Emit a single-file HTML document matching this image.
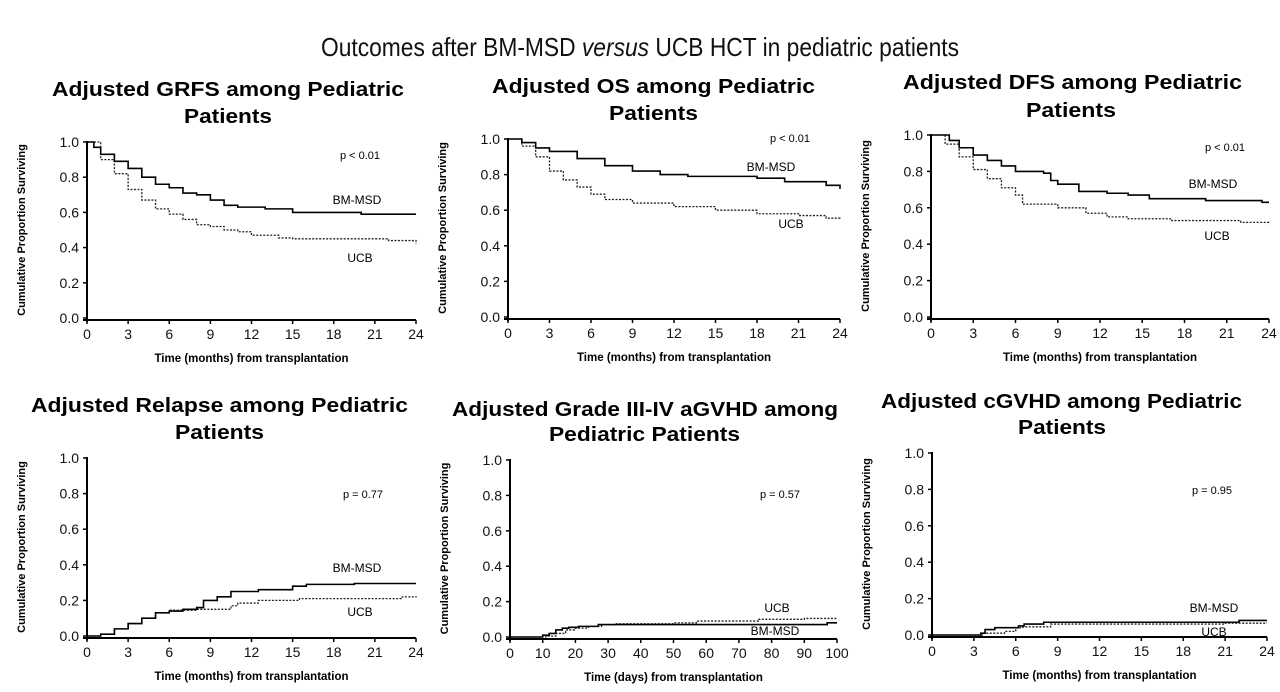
<!DOCTYPE html>
<html><head><meta charset="utf-8">
<style>
html,body{margin:0;padding:0;background:#fff;}
svg{display:block;font-family:"Liberation Sans",Arial,sans-serif;}
</style></head>
<body>
<svg id="fig" width="1280" height="692" viewBox="0 0 1280 692">
<text x="640" y="56" text-anchor="middle" font-size="26" textLength="638" lengthAdjust="spacingAndGlyphs" fill="#111">Outcomes after BM-MSD <tspan font-style="italic">versus</tspan> UCB HCT in pediatric patients</text>
</svg>
<script>
// ---- data ----
const grfsBmT=[0,0.5,1,2,3,4,5,6,7,8,9,10,11,13,15,20,24];
const grfsBmV=[1,0.97,0.93,0.89,0.85,0.80,0.76,0.74,0.71,0.70,0.67,0.64,0.63,0.62,0.60,0.59,0.59];
const grfsUcbT=[0,1,2,3,4,5,6,7,8,9,10,11,12,14,15,22,24];
const grfsUcbV=[1,0.90,0.82,0.73,0.67,0.62,0.59,0.56,0.53,0.52,0.50,0.49,0.47,0.455,0.45,0.44,0.42];
const osBmT=[0,1,2,3,5,7,9,11,13,18,20,23,24];
const osBmV=[1,0.98,0.95,0.93,0.89,0.85,0.82,0.80,0.79,0.78,0.76,0.74,0.72];
const osUcbT=[0,1,2,3,4,5,6,7,9,12,15,18,21,23,24];
const osUcbV=[1,0.96,0.90,0.82,0.77,0.73,0.69,0.66,0.64,0.62,0.60,0.58,0.57,0.555,0.55];
const dfsBmT=[0,1.3,2,3,4,5,6,8,8.5,9,10.5,12.5,14,15.5,19.5,23.5,24];
const dfsBmV=[1,0.97,0.93,0.89,0.86,0.83,0.80,0.79,0.75,0.73,0.69,0.68,0.67,0.65,0.64,0.63,0.63];
const dfsUcbT=[0,1,2,3,4,5,6,6.5,9,11,12.5,14,17,22,24];
const dfsUcbV=[1,0.95,0.88,0.81,0.76,0.71,0.67,0.62,0.60,0.57,0.55,0.54,0.53,0.52,0.51];
const relBmT=[0,1,2,3,4,5,6,7,8,8.5,9.5,10.5,12.5,15,16,19.5,24];
const relBmV=[0,0.01,0.04,0.07,0.10,0.13,0.14,0.15,0.16,0.20,0.22,0.25,0.26,0.28,0.29,0.295,0.295];
const relUcbT=[0,1,2,3,4,5,6,8,10.5,11,12.5,15.5,19,23,24];
const relUcbV=[0,0.01,0.04,0.07,0.10,0.13,0.145,0.15,0.17,0.185,0.20,0.21,0.21,0.22,0.225];
const agvBmT=[0,10,12,14,16,18,21,27,97,100];
const agvBmV=[0,0.01,0.02,0.04,0.05,0.055,0.06,0.07,0.08,0.08];
const agvUcbT=[0,11,14,17,20,24,28,32,50,57,76,90,100];
const agvUcbV=[0,0.005,0.02,0.04,0.05,0.06,0.07,0.075,0.08,0.09,0.10,0.105,0.105];
const cgvBmT=[0,3.5,3.8,4.5,6.2,6.6,8,22,24];
const cgvBmV=[0,0.01,0.03,0.04,0.05,0.06,0.07,0.08,0.08];
const cgvUcbT=[0,3.7,5.2,6,6.5,8.5,21,24];
const cgvUcbV=[0,0.01,0.02,0.04,0.045,0.06,0.065,0.065];
const yTicks=["0.0","0.2","0.4","0.6","0.8","1.0"];
const monthTicks=[0,3,6,9,12,15,18,21,24];
const dayTicks=[0,10,20,30,40,50,60,70,80,90,100];

const NS="http://www.w3.org/2000/svg";
const svg=document.getElementById('fig');
function mk(tag,attrs,parent){const e=document.createElementNS(NS,tag);for(const k in attrs)e.setAttribute(k,attrs[k]);(parent||svg).appendChild(e);return e;}

const panels=[
 {key:'grfs',t1:'Adjusted GRFS among Pediatric',t2:'Patients',l1:[52,404,96],l2:[184,272,123],x0:87,x1:416,y1:142,y0:318,xmax:24,ticks:monthTicks,xlab:'Time (months) from transplantation',
  bmT:grfsBmT,bmV:grfsBmV,ucbT:grfsUcbT,ucbV:grfsUcbV,p:['p < 0.01',360,159],bm:[357,204],ucb:[360,262]},
 {key:'os',t1:'Adjusted OS among Pediatric',t2:'Patients',l1:[492,815,93],l2:[609,698,120],x0:508,x1:840,y1:139,y0:317,xmax:24,ticks:monthTicks,xlab:'Time (months) from transplantation',
  bmT:osBmT,bmV:osBmV,ucbT:osUcbT,ucbV:osUcbV,p:['p < 0.01',790,142],bm:[771,171],ucb:[791,228]},
 {key:'dfs',t1:'Adjusted DFS among Pediatric',t2:'Patients',l1:[903,1242,89],l2:[1026,1116,117],x0:931,x1:1269,y1:135,y0:317,xmax:24,ticks:monthTicks,xlab:'Time (months) from transplantation',
  bmT:dfsBmT,bmV:dfsBmV,ucbT:dfsUcbT,ucbV:dfsUcbV,p:['p < 0.01',1225,151],bm:[1213,188],ucb:[1217,240]},
 {key:'relapse',t1:'Adjusted Relapse among Pediatric',t2:'Patients',l1:[31,408,412],l2:[175,264,439],x0:87,x1:416,y1:458,y0:636,xmax:24,ticks:monthTicks,xlab:'Time (months) from transplantation',
  bmT:relBmT,bmV:relBmV,ucbT:relUcbT,ucbV:relUcbV,p:['p = 0.77',363,498],bm:[357,572],ucb:[360,616]},
 {key:'agvhd',t1:'Adjusted Grade III-IV aGVHD among',t2:'Pediatric Patients',l1:[452,838,416],l2:[549,740,441],x0:510,x1:837,y1:460,y0:637,xmax:100,ticks:dayTicks,xlab:'Time (days) from transplantation',
  bmT:agvBmT,bmV:agvBmV,ucbT:agvUcbT,ucbV:agvUcbV,p:['p = 0.57',780,498],bm:[775,635],ucb:[777,612]},
 {key:'cgvhd',t1:'Adjusted cGVHD among Pediatric',t2:'Patients',l1:[881,1242,408],l2:[1018,1106,434],x0:932,x1:1267,y1:453,y0:635,xmax:24,ticks:monthTicks,xlab:'Time (months) from transplantation',
  bmT:cgvBmT,bmV:cgvBmV,ucbT:cgvUcbT,ucbV:cgvUcbV,p:['p = 0.95',1212,494],bm:[1214,612],ucb:[1214,636]}
];

function stepPath(T,V,sx,sy){let d='M'+sx(T[0])+','+sy(V[0]);for(let i=1;i<T.length;i++){d+=' H'+sx(T[i])+' V'+sy(V[i]);}return d;}

panels.forEach(p=>{
 const g=mk('g',{});
 
 
 const sx=v=>p.x0+(p.x1-p.x0)*v/p.xmax;
 const sy=v=>p.y0-(p.y0-p.y1)*v;
 let t=mk('text',{x:(p.l1[0]+p.l1[1])/2,y:p.l1[2],'text-anchor':'middle','font-size':20,'font-weight':'bold',textLength:p.l1[1]-p.l1[0],lengthAdjust:'spacingAndGlyphs'},g);t.textContent=p.t1;
  
 t=mk('text',{x:(p.l2[0]+p.l2[1])/2,y:p.l2[2],'text-anchor':'middle','font-size':20,'font-weight':'bold',textLength:p.l2[1]-p.l2[0],lengthAdjust:'spacingAndGlyphs'},g);t.textContent=p.t2;
  
 // axes
 const ax=mk('path',{d:`M${p.x0},${p.y1-1} V${p.y0+4} M${p.x0-4},${p.y0+2} H${p.x1}`,stroke:'#000','stroke-width':2,fill:'none'},g);
  
 yTicks.forEach((lab,i)=>{const y=sy(i*0.2);
  mk('line',{x1:p.x0-4,x2:p.x0,y1:y,y2:y,stroke:'#000','stroke-width':1.5},g);
  const tt=mk('text',{x:p.x0-8,y:y+5,'text-anchor':'end','font-size':14,fill:'#111'},g);tt.textContent=lab;
   });
 p.ticks.forEach(v=>{const x=sx(v);
  mk('line',{x1:x,x2:x,y1:p.y0+2,y2:p.y0+6,stroke:'#000','stroke-width':1.5},g);
  const tt=mk('text',{x:x,y:p.y0+21,'text-anchor':'middle','font-size':14,fill:'#111'},g);tt.textContent=v;
   });
 t=mk('text',{x:(p.x0+p.x1)/2,y:p.y0+44,'text-anchor':'middle','font-size':11.5,'font-weight':'bold'},g);t.textContent=p.xlab;
  
 const yc=(p.y0+p.y1)/2, yx=p.x0-62;
 t=mk('text',{x:yx,y:yc,'text-anchor':'middle','font-size':11,'font-weight':'bold',transform:`rotate(-90 ${yx} ${yc})`},g);t.textContent='Cumulative Proportion Surviving';
  
 // series
 const u=mk('path',{d:stepPath(p.ucbT,p.ucbV,sx,sy),stroke:'#222','stroke-width':1.3,fill:'none','stroke-dasharray':'2,1.5'},g);
  
 const b=mk('path',{d:stepPath(p.bmT,p.bmV,sx,sy),stroke:'#000','stroke-width':1.6,fill:'none'},g);
  
 t=mk('text',{x:p.p[1],y:p.p[2],'text-anchor':'middle','font-size':11},g);t.textContent=p.p[0];
  
 t=mk('text',{x:p.bm[0],y:p.bm[1],'text-anchor':'middle','font-size':12},g);t.textContent='BM-MSD';
  
 t=mk('text',{x:p.ucb[0],y:p.ucb[1],'text-anchor':'middle','font-size':12},g);t.textContent='UCB';
  
});
</script>
</body></html>
